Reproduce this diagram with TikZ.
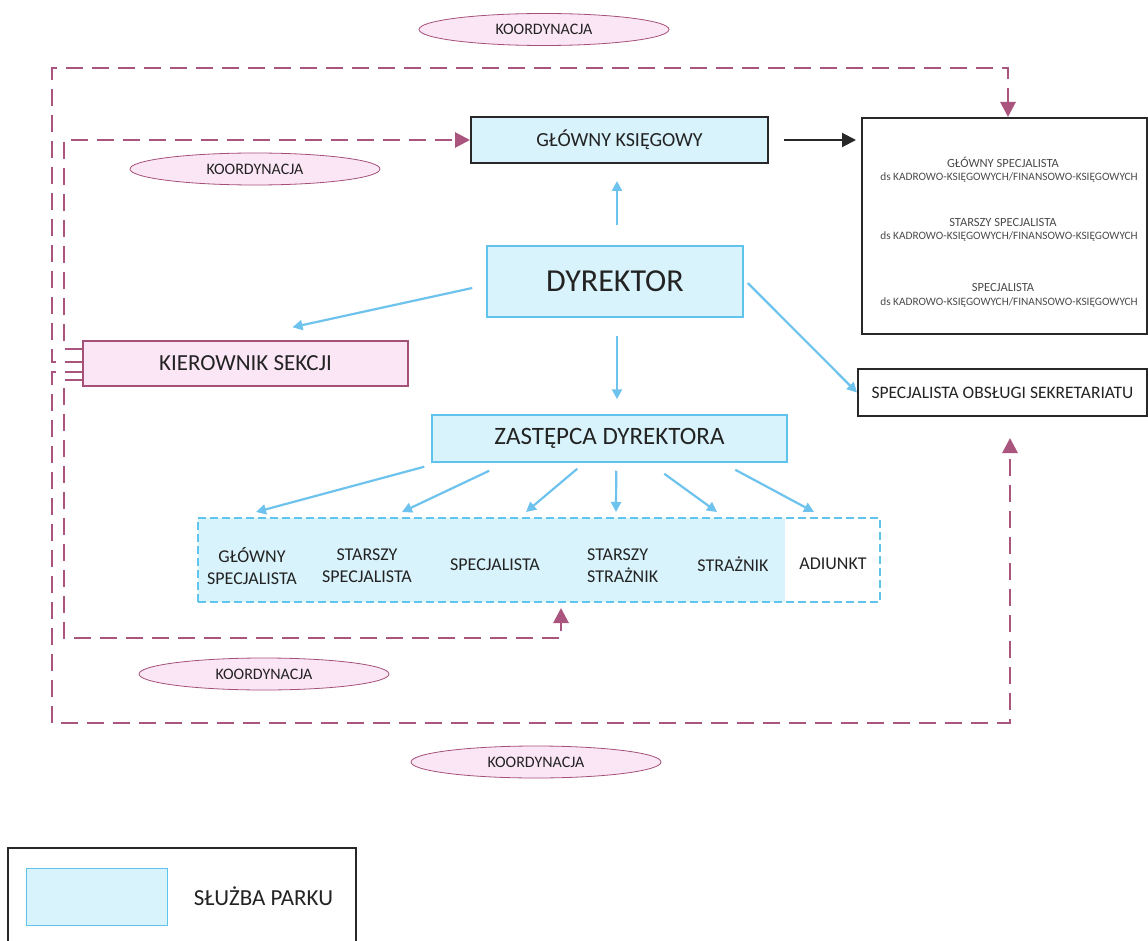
\documentclass[tikz,border=0pt]{standalone}
\usepackage{fontspec}
\setmainfont{Carlito}
\usetikzlibrary{arrows.meta,calc,shapes.geometric}
\definecolor{cyanfill}{RGB}{216,243,252}
\definecolor{cyanline}{RGB}{95,195,235}
\definecolor{bluearrow}{RGB}{110,195,238}
\definecolor{pinkfill}{RGB}{251,230,246}
\definecolor{maroonc}{RGB}{165,80,120}
\definecolor{dashc}{RGB}{170,85,125}
\definecolor{ink}{RGB}{35,35,35}
\definecolor{framec}{RGB}{40,40,40}
\definecolor{greyink}{RGB}{75,75,75}
\begin{document}
\begin{tikzpicture}[x=1pt,y=-1pt,
  box/.style={rectangle,inner sep=0pt,anchor=center,text=ink},
  park/.style={box,fill=cyanfill,draw=cyanline,line width=1.5pt},
  blk/.style={box,draw=framec,line width=2pt},
  koord/.style={ellipse,draw=maroonc,line width=0.8pt,fill=pinkfill,inner sep=0pt,
    minimum width=250pt,minimum height=32pt,font=\fontsize{16}{19}\selectfont,text=ink},
  coordline/.style={draw=dashc,line width=2.8pt,dash pattern=on 17pt off 9pt,
    -{Triangle[length=15pt,width=15pt]}},
  bline/.style={draw=bluearrow,line width=2.2pt,-{Triangle[length=10pt,width=10pt]}},
  gtext/.style={inner sep=0pt,text=ink,align=center,font=\fontsize{18}{22}\selectfont},
  rtitle/.style={inner sep=0pt,text=greyink,font=\fontsize{12.5}{15}\selectfont},
  rsub/.style={inner sep=0pt,text=greyink,font=\fontsize{11.3}{14}\selectfont},
]
\useasboundingbox (0,0) rectangle (1148,941);
\fill[white] (0,0) rectangle (1148,941);

% ellipses
\node[koord] (e1) at (544,29.5) {KOORDYNACJA};
\node[koord] (e2) at (255,169) {KOORDYNACJA};
\node[koord] (e3) at (264,674) {KOORDYNACJA};
\node[koord] (e4) at (536,762) {KOORDYNACJA};

% main boxes
\node[box,fill=cyanfill,draw=framec,line width=2pt,minimum width=297pt,minimum height=46pt,
  font=\fontsize{20}{24}\selectfont] (gk) at (619.5,140) {GŁÓWNY KSIĘGOWY};
\node[park,minimum width=256pt,minimum height=71pt,font=\fontsize{32}{38}\selectfont] (dyr) at (615,281.5) {DYREKTOR};
\node[box,fill=pinkfill,draw=maroonc,line width=1.5pt,minimum width=325pt,minimum height=45pt,
  font=\fontsize{23}{27}\selectfont] (kier) at (245.5,363.5) {KIEROWNIK SEKCJI};
\node[park,minimum width=355pt,minimum height=47pt,font=\fontsize{25}{30}\selectfont] (zast) at (609.5,438.5) {ZASTĘPCA DYREKTORA};
\node[blk,minimum width=285pt,minimum height=216pt] (rbox) at (1004.5,226) {};
\node[blk,minimum width=289pt,minimum height=47pt,font=\fontsize{17.5}{21}\selectfont] (sos) at (1002.5,392.5) {SPECJALISTA OBSŁUGI SEKRETARIATU};

% right box texts
\node[rtitle] (r1a) at (1003,162) {GŁÓWNY SPECJALISTA};
\node[rsub] (r1b) at (1009,177) {ds KADROWO-KSIĘGOWYCH/FINANSOWO-KSIĘGOWYCH};
\node[rtitle] (r2a) at (1003,222) {STARSZY SPECJALISTA};
\node[rsub] (r2b) at (1009,236) {ds KADROWO-KSIĘGOWYCH/FINANSOWO-KSIĘGOWYCH};
\node[rtitle] (r3a) at (1003,287) {SPECJALISTA};
\node[rsub] (r3b) at (1009,302) {ds KADROWO-KSIĘGOWYCH/FINANSOWO-KSIĘGOWYCH};

% group box
\fill[cyanfill] (198,518) rectangle (785,602);
\node[box,draw=cyanline,line width=2pt,dash pattern=on 8pt off 4pt,minimum width=682pt,minimum height=84pt] (grp) at (539,560) {};
\node[gtext] (g1) at (252,566) {GŁÓWNY\\SPECJALISTA};
\node[gtext] (g2) at (367,566) {STARSZY\\SPECJALISTA};
\node[gtext] (g3) at (495,565) {SPECJALISTA};
\node[gtext,align=left,anchor=west] (g4) at (587,566) {STARSZY\\STRAŻNIK};
\node[gtext] (g5) at (733,564) {STRAŻNIK};
\node[gtext] (g6) at (833,564) {ADIUNKT};

% blue arrows
\draw[bline] ([xshift=2pt,yshift=20pt]dyr.north) -- ([xshift=-2.5pt,yshift=-17pt]gk.south);
\draw[bline] ([xshift=2pt,yshift=-18pt]dyr.south) -- ([xshift=7.5pt,yshift=15pt]zast.north);
\draw[bline] ($(dyr.west)+(-14,6.5)$) -- ($(kier.north)+(47,-13)$);
\draw[bline] ($(dyr.east)+(4,1.5)$) -- (sos.west);
\draw[bline] ($(zast.south west)+(-7,4)$) -- ($(grp.north west)+(59,-5)$);
\draw[bline] ($(zast.south west)+(58,8)$) -- ($(grp.north west)+(205,-5)$);
\draw[bline] ($(zast.south west)+(146,6)$) -- ($(grp.north west)+(329,-5)$);
\draw[bline] ($(zast.south west)+(185,8)$) -- ($(grp.north west)+(419,-5)$);
\draw[bline] ($(zast.south west)+(233,11)$) -- ($(grp.north west)+(520,-5)$);
\draw[bline] ($(zast.south west)+(304,7)$) -- ($(grp.north west)+(617,-5)$);

% black arrow
\draw[draw=framec,line width=2pt,-{Triangle[length=14pt,width=14pt]},shorten <=15pt,shorten >=5pt]
  (gk.east) -- (gk.east -| rbox.west);

% coordination dashed lines
\draw[coordline] ([yshift=14.5pt]kier.west) -| (64,140) -- (gk.west);
\draw[coordline] ([yshift=1.5pt]kier.west) -| (52,68) -| ([xshift=3.5pt]rbox.north);
\draw[coordline,shorten >=21pt] ([yshift=-8.5pt]kier.west) -| (52,723) -| ([xshift=7.5pt]sos.south);
\draw[coordline,shorten >=5pt] ([yshift=-16.5pt]kier.west) -| (64,638) -| ([xshift=22pt]grp.south);

% legend
\draw[draw=framec,line width=1.2pt] (8,945) -- (8,848) -- (356,848) -- (356,945);
\node[box,fill=cyanfill,draw=cyanline,line width=1pt,minimum width=141pt,minimum height=57pt] (leg) at (96.5,896.5) {};
\node[inner sep=0pt,text=ink,font=\fontsize{23}{27}\selectfont] (legt) at (263.5,896) {SŁUŻBA PARKU};
\end{tikzpicture}
\end{document}
